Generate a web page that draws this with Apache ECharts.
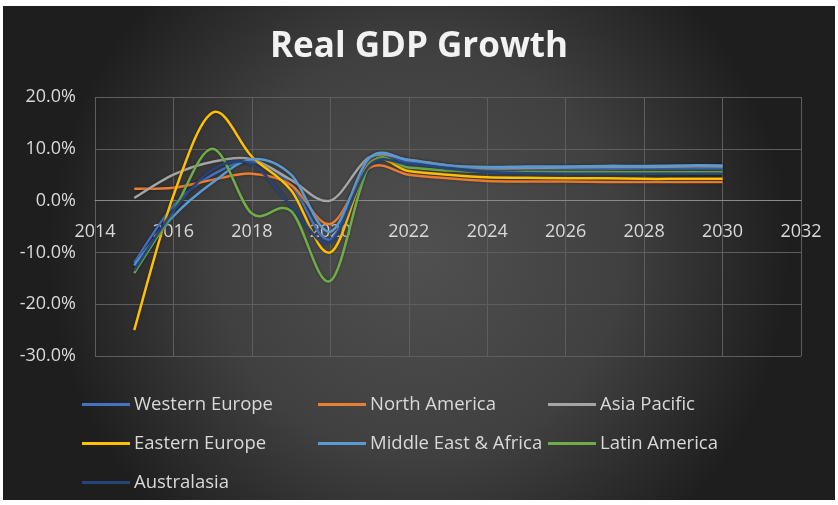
<!DOCTYPE html>
<html>
<head>
<meta charset="utf-8">
<script src="https://cdn.jsdelivr.net/npm/echarts@6/dist/echarts.min.js"></script>
<style>
  html, body { margin: 0; padding: 0; background: #ffffff; }
  #chart { position: absolute; left: 3px; top: 6px; width: 832px; height: 494px; }
</style>
</head>
<body>
<div id="chart"></div>
<script>
// Years along the x axis
const years = [2015, 2016, 2017, 2018, 2019, 2020, 2021, 2022, 2023, 2024, 2025, 2026, 2027, 2028, 2029, 2030];

// Real GDP growth by region, percent
const westernEurope    = [-12.0, -1.0, 5.0, 7.5, 3.0, -7.5, 7.9, 7.3, 6.5, 6.0, 6.0, 6.1, 6.1, 6.2, 6.2, 6.2];
const northAmerica     = [2.3, 2.5, 4.0, 5.2, 3.0, -4.5, 6.3, 5.0, 4.3, 3.8, 3.7, 3.7, 3.6, 3.6, 3.6, 3.6];
const asiaPacific      = [0.5, 5.0, 7.5, 8.0, 4.0, 0.0, 8.4, 7.9, 6.8, 6.2, 6.3, 6.4, 6.5, 6.5, 6.6, 6.6];
const easternEurope    = [-25.0, 1.0, 17.0, 8.5, 2.0, -10.0, 7.2, 5.7, 5.0, 4.5, 4.4, 4.3, 4.3, 4.2, 4.2, 4.2];
const middleEastAfrica = [-12.5, -3.0, 3.5, 8.0, 5.0, -6.0, 8.3, 7.8, 6.8, 6.5, 6.6, 6.6, 6.7, 6.7, 6.8, 6.8];
const latinAmerica     = [-14.0, -2.0, 10.0, -2.5, -2.0, -15.5, 6.8, 6.4, 5.8, 5.5, 5.5, 5.5, 5.5, 5.5, 5.5, 5.5];
const australasia      = [-13.5, -2.0, 6.0, 7.0, -1.0, -8.0, 6.8, 7.0, 6.2, 5.5, 5.3, 5.2, 5.2, 5.2, 5.2, 5.2];

const seriesNames = ['Western Europe', 'North America', 'Asia Pacific', 'Eastern Europe',
                     'Middle East & Africa', 'Latin America', 'Australasia'];
const seriesValues = [westernEurope, northAmerica, asiaPacific, easternEurope,
                      middleEastAfrica, latinAmerica, australasia];
const seriesColors = ['#4472C4', '#ED7D31', '#A5A5A5', '#FFC000', '#5B9BD5', '#70AD47', '#264478'];

// Axis ticks
const xTicks = { min: 2014, max: 2032, step: 2 };
const yTicks = { min: -30, max: 20, step: 10 };

const FONT = '"Open Sans", "Liberation Sans", sans-serif';
const TEXT = '#d9d9d9';

const chart = echarts.init(document.getElementById('chart'));

// Legend laid out as three columns, one legend per entry
const legendSlots = [
  [74, 384], [310, 384], [540, 384],
  [74, 423], [310, 423], [540, 423],
  [74, 462]
];
const legends = seriesNames.map((name, i) => ({
  data: [name],
  left: legendSlots[i][0],
  top: legendSlots[i][1],
  icon: 'rect',
  itemWidth: 48,
  itemHeight: 3,
  itemGap: 4,
  selectedMode: false,
  textStyle: { color: TEXT, fontSize: 18.5, fontFamily: FONT, padding: [0, 0, 0, -1] }
}));

// Smoothed line through pixel points: Catmull-Rom spline written as cubic Beziers
function smoothPath(pts) {
  let d = 'M' + pts[0][0] + ' ' + pts[0][1];
  for (let k = 0; k < pts.length - 1; k++) {
    const p0 = pts[Math.max(k - 1, 0)];
    const p1 = pts[k];
    const p2 = pts[k + 1];
    const p3 = pts[Math.min(k + 2, pts.length - 1)];
    const c1x = p1[0] + (p2[0] - p0[0]) / 6;
    const c1y = p1[1] + (p2[1] - p0[1]) / 6;
    const c2x = p2[0] - (p3[0] - p1[0]) / 6;
    const c2y = p2[1] - (p3[1] - p1[1]) / 6;
    d += ' C' + c1x + ' ' + c1y + ' ' + c2x + ' ' + c2y + ' ' + p2[0] + ' ' + p2[1];
  }
  return d;
}

const series = seriesNames.map((name, i) => ({
  name: name,
  type: 'custom',
  coordinateSystem: 'cartesian2d',
  data: years.map((y, k) => [y, seriesValues[i][k]]),
  encode: { x: 0, y: 1 },
  itemStyle: { color: seriesColors[i] },
  z: 2 + i,
  renderItem: function (params, api) {
    if (params.dataIndex !== 0) return null;
    const pts = years.map((y, k) => api.coord([y, seriesValues[i][k]]));
    return {
      type: 'path',
      shape: { pathData: smoothPath(pts) },
      style: {
        fill: 'none',
        stroke: seriesColors[i],
        lineWidth: 2.5,
        lineJoin: 'round',
        shadowColor: 'rgba(0,0,0,0.35)',
        shadowBlur: 3
      }
    };
  }
}));

const option = {
  animation: false,
  backgroundColor: {
    type: 'radial', x: 0.5, y: 0.5, r: 0.75,
    colorStops: [
      { offset: 0, color: '#505050' },
      { offset: 0.55, color: '#404040' },
      { offset: 1, color: '#1e1e1e' }
    ]
  },
  title: {
    text: 'Real GDP Growth',
    left: 'center',
    top: 19,
    textStyle: { color: '#f2f2f2', fontSize: 35, fontWeight: 'bold', fontFamily: FONT }
  },
  legend: legends,
  grid: { left: 92, top: 91, right: 34, bottom: 144, containLabel: false },
  xAxis: {
    type: 'value',
    min: xTicks.min,
    max: xTicks.max,
    interval: xTicks.step,
    offset: 0,
    axisLine: { onZero: false, lineStyle: { color: '#8a8a8a', width: 1 } },
    axisTick: { show: false },
    axisLabel: { color: TEXT, fontSize: 18, fontFamily: FONT, margin: 22,
                 formatter: v => String(v) },
    splitLine: { show: true, lineStyle: { color: '#5e5e5e', width: 1 } }
  },
  yAxis: {
    type: 'value',
    min: yTicks.min,
    max: yTicks.max,
    interval: yTicks.step,
    axisLine: { show: false },
    axisTick: { show: false },
    axisLabel: { color: TEXT, fontSize: 18, fontFamily: FONT, margin: 19,
                 formatter: v => v.toFixed(1) + '%' },
    splitLine: { show: true, lineStyle: { color: '#5e5e5e', width: 1 } }
  },
  series: series
};

chart.setOption(option);

// Move the x axis (line and year labels) up to the 0% level of the value axis
const zeroY = chart.convertToPixel({ yAxisIndex: 0 }, 0);
const bottomY = chart.convertToPixel({ yAxisIndex: 0 }, yTicks.min);
chart.setOption({ xAxis: { offset: -(bottomY - zeroY) } });
</script>
</body>
</html>
